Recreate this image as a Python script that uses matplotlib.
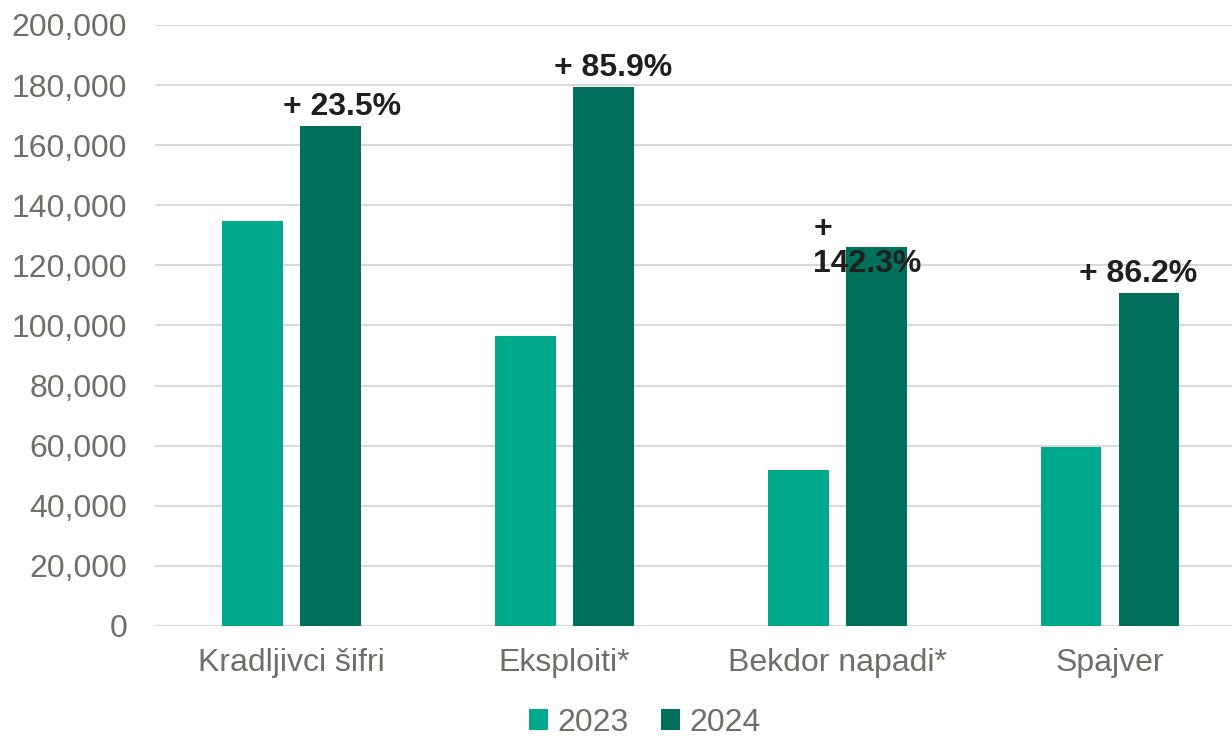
import numpy as np
import matplotlib
matplotlib.use('Agg')
from matplotlib import pyplot as plt
from matplotlib.ticker import FuncFormatter

# Data
categories = ['Kradljivci šifri', 'Eksploiti*', 'Bekdor napadi*', 'Spajver']
values_2023 = [134700, 96500, 52000, 59500]
values_2024 = [166400, 179400, 126000, 110800]
growth_labels = ['+ 23.5%', '+ 85.9%', '+\n142.3%', '+ 86.2%']
yticks = [0, 20000, 40000, 60000, 80000, 100000, 120000, 140000, 160000, 180000, 200000]

color_2023 = '#00A88C'
color_2024 = '#006F5C'
text_grey = '#6F6F68'

plt.rcParams['font.family'] = ['Liberation Sans', 'DejaVu Sans']

fig = plt.figure(figsize=(12.32, 7.36), dpi=100)
ax = fig.add_axes([0.1258, 0.1495, 0.8742, 0.8166])

x = np.arange(len(categories))
width = 0.223
offset = 0.143

ax.bar(x - offset, values_2023, width, color=color_2023, label='2023', zorder=3)
bars = ax.bar(x + offset, values_2024, width, color=color_2024, label='2024', zorder=3)

# growth labels above the 2024 bars (offsets in pixels)
label_dx = [12, 10, -63, -11]
for i, (rect, txt) in enumerate(zip(bars, growth_labels)):
    bx = rect.get_x() + rect.get_width() / 2
    by = rect.get_height()
    if '\n' in txt:
        ax.annotate(txt, (bx, by), xytext=(label_dx[i], 33), textcoords='offset pixels',
                    ha='left', va='top', fontsize=23, fontweight='bold', color='#1F1F1F',
                    linespacing=1.22, zorder=4)
    else:
        ax.annotate(txt, (bx, by), xytext=(label_dx[i], 11), textcoords='offset pixels',
                    ha='center', va='baseline', fontsize=23, fontweight='bold', color='#1F1F1F',
                    zorder=4)

ax.set_xlim(-0.5, 3.447)
ax.set_ylim(0, 200000)
ax.set_yticks(yticks)
ax.yaxis.set_major_formatter(FuncFormatter(lambda v, p: f'{int(v):,}'))
ax.set_xticks(x)
ax.set_xticklabels(categories)

ax.grid(axis='y', color='#D9D9D9', linewidth=1.5, zorder=0)
for s in ax.spines.values():
    s.set_visible(False)
ax.tick_params(axis='y', length=0, pad=20, labelsize=23, labelcolor=text_grey)
ax.tick_params(axis='x', length=0, pad=16, labelsize=23, labelcolor=text_grey)

leg = ax.legend(loc='lower center', bbox_to_anchor=(0.455, -0.234), ncol=2, frameon=False,
                fontsize=23, handlelength=0.6, handleheight=0.6, handletextpad=0.3,
                columnspacing=1.0, labelcolor=text_grey)

fig.savefig('out.png', dpi=100)
